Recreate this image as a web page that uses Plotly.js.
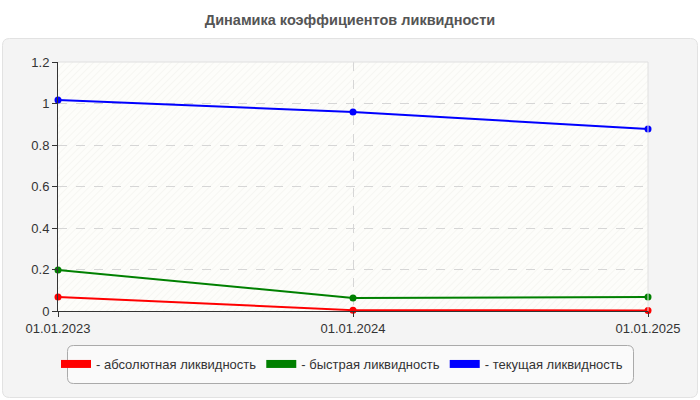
<!DOCTYPE html>
<html>
<head>
<meta charset="utf-8">
<script src="https://cdn.plot.ly/plotly-3.0.1.min.js"></script>
<style>html,body{margin:0;padding:0;background:#fff;}#chart{width:700px;height:400px;}</style>
</head>
<body>
<div id="chart"></div>
<script>
// ---- data ----
const dates = ['01.01.2023', '01.01.2024', '01.01.2025'];
const absoluteLiquidity = [0.067, 0.004, 0.003];
const quickLiquidity = [0.198, 0.063, 0.067];
const currentLiquidity = [1.017, 0.959, 0.877];
const seriesNames = ['- абсолютная ликвидность', '- быстрая ликвидность', '- текущая ликвидность'];
const seriesColors = ['#ff0000', '#008000', '#0000ff'];
const chartTitle = 'Динамика коэффициентов ликвидности';

// ---- layout helpers (pixel -> paper) ----
const L = 58, R = 648, T = 62, B = 311;
const px = p => (p - L) / (R - L);
const py = p => (B - p) / (B - T);
function roundedRect(x0, y0, x1, y1, r) {
  const X = px, Y = py;
  return 'M' + X(x0 + r) + ',' + Y(y0) +
    ' L' + X(x1 - r) + ',' + Y(y0) +
    ' Q' + X(x1) + ',' + Y(y0) + ' ' + X(x1) + ',' + Y(y0 + r) +
    ' L' + X(x1) + ',' + Y(y1 - r) +
    ' Q' + X(x1) + ',' + Y(y1) + ' ' + X(x1 - r) + ',' + Y(y1) +
    ' L' + X(x0 + r) + ',' + Y(y1) +
    ' Q' + X(x0) + ',' + Y(y1) + ' ' + X(x0) + ',' + Y(y1 - r) +
    ' L' + X(x0) + ',' + Y(y0 + r) +
    ' Q' + X(x0) + ',' + Y(y0) + ' ' + X(x0 + r) + ',' + Y(y0) + ' Z';
}

// hatched plot background as an inline SVG pattern
const hatchSvg =
  '<svg xmlns="http://www.w3.org/2000/svg" width="590" height="249">' +
  '<defs><pattern id="h" width="5" height="5" patternUnits="userSpaceOnUse" patternTransform="rotate(45)">' +
  '<rect width="5" height="5" fill="#fdfdfa"/><line x1="0" y1="0" x2="0" y2="5" stroke="#f2f2ee" stroke-width="1.2"/>' +
  '</pattern></defs><rect width="590" height="249" fill="url(#h)"/></svg>';
const hatchSrc = 'data:image/svg+xml;charset=utf-8,' + encodeURIComponent(hatchSvg);

const seriesValues = [absoluteLiquidity, quickLiquidity, currentLiquidity];
const traces = [];
seriesValues.forEach((vals, i) => {
  traces.push({
    type: 'scatter', mode: 'lines+markers', x: dates, y: vals,
    line: {color: seriesColors[i], width: 2},
    marker: {color: seriesColors[i], size: 7},
    showlegend: false, hoverinfo: 'skip', cliponaxis: false
  });
});
// legend-only entries
seriesValues.forEach((vals, i) => {
  traces.push({
    type: 'scatter', mode: 'lines', x: [null], y: [null],
    name: seriesNames[i],
    line: {color: seriesColors[i], width: 8},
    showlegend: true
  });
});

const font = 'Liberation Sans, Arial, sans-serif';
const layout = {
  width: 700, height: 400,
  margin: {l: L, r: 700 - R, t: T, b: 400 - B},
  paper_bgcolor: '#ffffff',
  plot_bgcolor: 'rgba(0,0,0,0)',
  font: {family: font, size: 13, color: '#333'},
  title: {
    text: '<b>' + chartTitle + '</b>',
    font: {family: font, size: 14.5, color: '#555'},
    x: 0.5, xref: 'container', y: 1 - 20 / 400, yref: 'container', yanchor: 'middle'
  },
  showlegend: true,
  legend: {
    orientation: 'h', x: px(342), xanchor: 'center', y: py(364), yanchor: 'middle',
    bgcolor: 'rgba(0,0,0,0)', borderwidth: 0,
    font: {family: font, size: 13, color: '#333'},
    itemwidth: 30, itemclick: false, itemdoubleclick: false
  },
  xaxis: {
    type: 'category', range: [0, 2], fixedrange: true,
    showline: true, linecolor: '#333', linewidth: 1,
    ticks: 'outside', ticklen: 5, tickcolor: '#333',
    showgrid: true, gridcolor: '#d6d6d6', griddash: 'dash', gridwidth: 1,
    tickfont: {family: font, size: 13, color: '#333'},
    zeroline: false
  },
  yaxis: {
    range: [0, 1.2], dtick: 0.2, tick0: 0, fixedrange: true,
    showline: true, linecolor: '#333', linewidth: 1,
    ticks: 'outside', ticklen: 5, tickcolor: '#333',
    showgrid: true, gridcolor: '#d6d6d6', griddash: 'dash', gridwidth: 1,
    tickfont: {family: font, size: 13, color: '#333'},
    zeroline: false
  },
  images: [{
    source: hatchSrc, xref: 'x', yref: 'y', x: 0, y: 1.2, sizex: 2, sizey: 1.2,
    sizing: 'stretch', xanchor: 'left', yanchor: 'top', layer: 'below'
  }],
  shapes: [
    {type: 'path', xref: 'paper', yref: 'paper', layer: 'below',
     path: roundedRect(2.5, 38.5, 697.5, 397.5, 7),
     fillcolor: '#f4f4f4', line: {color: '#e2e2e2', width: 1}},
    {type: 'path', xref: 'paper', yref: 'paper', layer: 'below',
     path: roundedRect(67.5, 345.5, 633.5, 383.5, 6),
     fillcolor: '#fafafa', line: {color: '#aaaaaa', width: 1}},
    {type: 'line', xref: 'paper', yref: 'paper', layer: 'above',
     x0: 0, x1: 1, y0: 1, y1: 1, line: {color: '#e0e0e0', width: 1}},
    {type: 'line', xref: 'paper', yref: 'paper', layer: 'above',
     x0: 1, x1: 1, y0: 0, y1: 1, line: {color: '#e0e0e0', width: 1}}
  ]
};

Plotly.newPlot('chart', traces, layout, {displayModeBar: false, staticPlot: true});
</script>
</body>
</html>
